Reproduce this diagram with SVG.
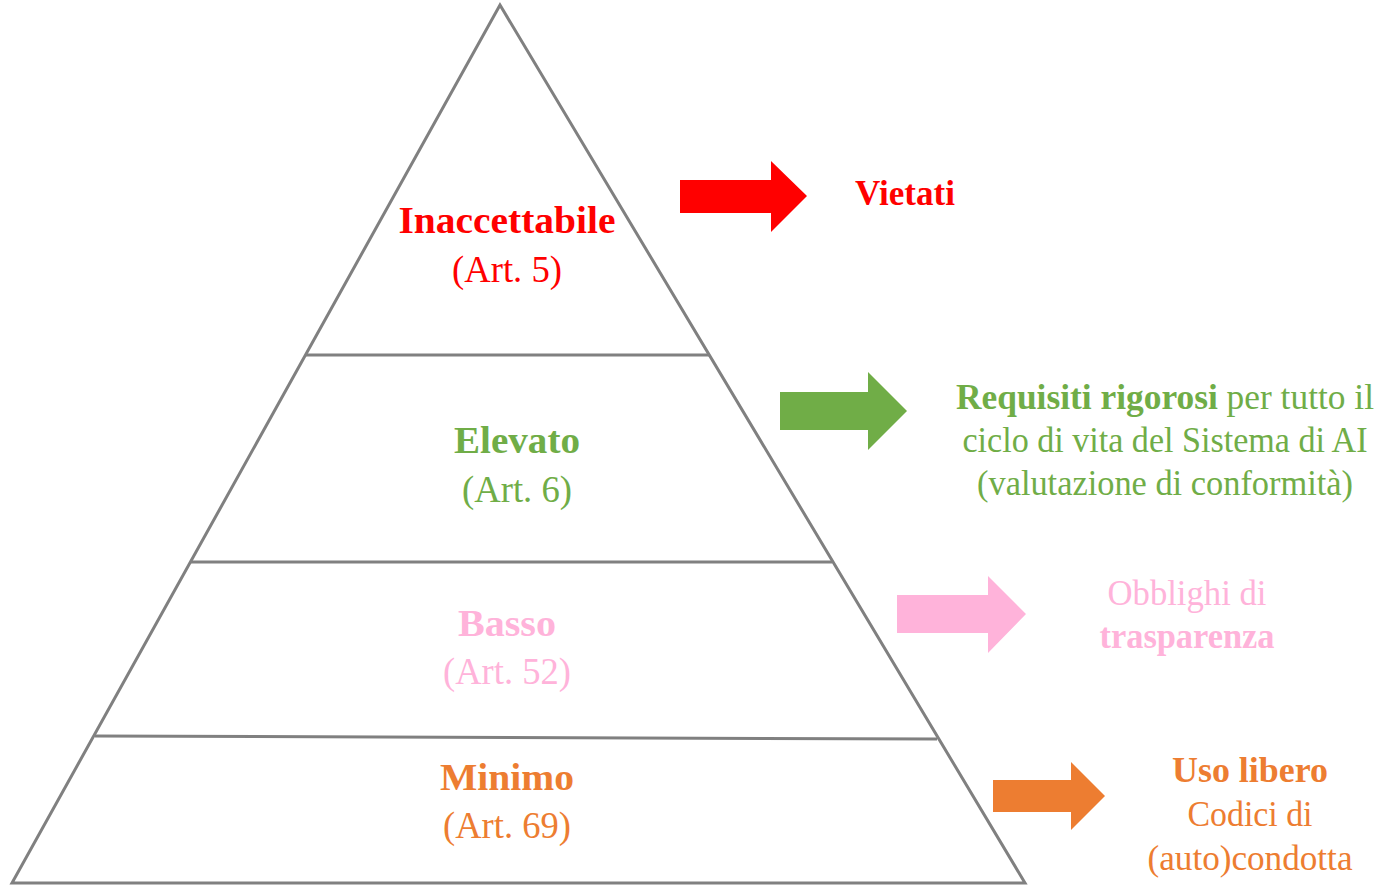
<svg xmlns="http://www.w3.org/2000/svg" width="1377" height="886" viewBox="0 0 1377 886">
<style>
text{font-family:"Liberation Serif","Times New Roman",serif;font-size:37px;text-anchor:middle}
.b{font-weight:bold}
.r{fill:#FF0000}.g{fill:#70AD47}.p{fill:#FFB3DA}.o{fill:#ED7D31}
.s{font-size:35px}
.ln{stroke:#808080;stroke-width:3;fill:none;stroke-linejoin:miter}
</style>
<rect width="1377" height="886" fill="#fff"/>
<g id="pyramid">
<path class="ln" d="M500,5 L12,883 L1025,883 Z"/>
<line class="ln" x1="306" y1="355" x2="709" y2="355"/>
<line class="ln" x1="191" y1="562" x2="832" y2="562"/>
<line class="ln" x1="95" y1="736" x2="937" y2="739"/>
</g>
<g id="level-inaccettabile">
<text class="b r" x="507" y="233" textLength="217" lengthAdjust="spacingAndGlyphs">Inaccettabile</text>
<text class="r" x="507" y="282" textLength="110" lengthAdjust="spacingAndGlyphs">(Art. 5)</text>
</g>
<g id="level-elevato">
<text class="b g" x="517" y="453" textLength="126" lengthAdjust="spacingAndGlyphs">Elevato</text>
<text class="g" x="517" y="502" textLength="110" lengthAdjust="spacingAndGlyphs">(Art. 6)</text>
</g>
<g id="level-basso">
<text class="b p" x="507" y="636" textLength="98" lengthAdjust="spacingAndGlyphs">Basso</text>
<text class="p" x="507" y="684" textLength="128" lengthAdjust="spacingAndGlyphs">(Art. 52)</text>
</g>
<g id="level-minimo">
<text class="b o" x="507" y="790" textLength="134" lengthAdjust="spacingAndGlyphs">Minimo</text>
<text class="o" x="507" y="838" textLength="128" lengthAdjust="spacingAndGlyphs">(Art. 69)</text>
</g>
<g id="connectors">
<polygon fill="#FF0000" points="680,180 771,180 771,161 807,196 771,232 771,213 680,213"/>
<polygon fill="#70AD47" points="780,392 868,392 868,372 907,411 868,450 868,430 780,430"/>
<polygon fill="#FFB3DA" points="897,595 988,595 988,576 1026,614 988,653 988,633 897,633"/>
<polygon fill="#ED7D31" points="993,780 1071,780 1071,762 1105,796 1071,830 1071,812 993,812"/>
</g>
<g id="desc-vietati">
<text class="b r s" x="905" y="205" textLength="100" lengthAdjust="spacingAndGlyphs">Vietati</text>
</g>
<g id="desc-requisiti">
<text class="g s" x="1165" y="409" textLength="418" lengthAdjust="spacingAndGlyphs"><tspan class="b">Requisiti rigorosi</tspan> per tutto il</text>
<text class="g s" x="1165" y="452" textLength="405" lengthAdjust="spacingAndGlyphs">ciclo di vita del Sistema di AI</text>
<text class="g s" x="1165" y="495" textLength="376" lengthAdjust="spacingAndGlyphs">(valutazione di conformità)</text>
</g>
<g id="desc-trasparenza">
<text class="p s" x="1187" y="605" textLength="159" lengthAdjust="spacingAndGlyphs">Obblighi di</text>
<text class="b p s" x="1187" y="648" textLength="175" lengthAdjust="spacingAndGlyphs">trasparenza</text>
</g>
<g id="desc-uso">
<text class="b o s" x="1250" y="782" textLength="156" lengthAdjust="spacingAndGlyphs">Uso libero</text>
<text class="o s" x="1250" y="826" textLength="125" lengthAdjust="spacingAndGlyphs">Codici di</text>
<text class="o s" x="1250" y="870" textLength="205" lengthAdjust="spacingAndGlyphs">(auto)condotta</text>
</g>
</svg>
